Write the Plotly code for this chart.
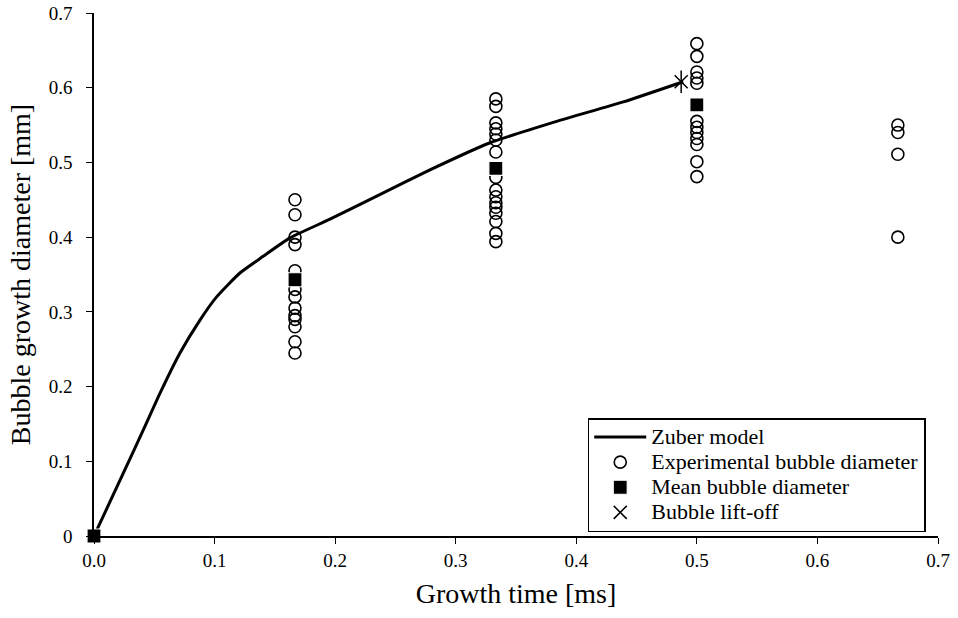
import plotly.graph_objects as go

# Zuber model curve
zuber_t = [0, 0.0243, 0.0409, 0.0547, 0.0713, 0.0879, 0.1017, 0.121, 0.140, 0.1625,
           0.1957, 0.237, 0.2786, 0.328, 0.3837, 0.439, 0.4887]
zuber_d = [0, 0.084, 0.142, 0.191, 0.245, 0.289, 0.320, 0.352, 0.374, 0.399,
           0.424, 0.457, 0.490, 0.526, 0.555, 0.581, 0.608]

# Experimental bubble diameters at each growth time
t1 = 0.1667
d1 = [0.45, 0.43, 0.40, 0.39, 0.355, 0.33, 0.32, 0.305, 0.295, 0.29, 0.28, 0.26, 0.245]
t2 = 0.3333
d2 = [0.585, 0.575, 0.553, 0.545, 0.538, 0.53, 0.514, 0.48, 0.463, 0.454, 0.446,
      0.44, 0.432, 0.421, 0.405, 0.394]
t3 = 0.5
d3 = [0.659, 0.642, 0.621, 0.613, 0.606, 0.555, 0.547, 0.54, 0.532, 0.524, 0.501, 0.481]
t4 = 0.6667
d4 = [0.55, 0.54, 0.511, 0.40]

# Mean bubble diameter
mean_t = [0.0, 0.1667, 0.3333, 0.5]
mean_d = [0.0, 0.343, 0.492, 0.577]

# Bubble lift-off
lift_t = [0.487]
lift_d = [0.608]

exp_t = [t1] * len(d1) + [t2] * len(d2) + [t3] * len(d3) + [t4] * len(d4)
exp_d = d1 + d2 + d3 + d4

FONT = "Liberation Serif, Times New Roman, serif"


def lg(text):
    return '<span style="font-size:22px">' + text + '</span>'


fig = go.Figure()
fig.add_trace(go.Scatter(x=zuber_t, y=zuber_d, mode="lines", name=lg("Zuber model"),
                         line=dict(color="black", width=3, shape="spline", smoothing=0.5)))
fig.add_trace(go.Scatter(x=exp_t, y=exp_d, mode="markers", name=lg("Experimental bubble diameter"),
                         marker=dict(symbol="circle-open", size=12, color="black",
                                     line=dict(color="black", width=1.6))))
fig.add_trace(go.Scatter(x=mean_t, y=mean_d, mode="markers", name=lg("Mean bubble diameter"),
                         marker=dict(symbol="square", size=14, color="black",
                                     line=dict(color="white", width=1.2))))
fig.add_trace(go.Scatter(x=lift_t, y=lift_d, mode="markers", name=lg("Bubble lift-off"),
                         marker=dict(symbol="x-thin", size=13, color="black",
                                     line=dict(color="black", width=1.5))))
fig.add_trace(go.Scatter(x=lift_t, y=lift_d, mode="markers", showlegend=False,
                         marker=dict(symbol="line-ns", size=16, color="black",
                                     line=dict(color="black", width=1.5))))

fig.update_traces(cliponaxis=False)

fig.update_layout(
    width=958, height=618,
    margin=dict(l=94, r=20, t=13, b=82),
    paper_bgcolor="white", plot_bgcolor="white",
    font=dict(family=FONT, color="black", size=19),
    showlegend=True,
    legend=dict(x=0.585, y=0.2256, xanchor="left", yanchor="top",
                bgcolor="white", bordercolor="black", borderwidth=1.5,
                font=dict(family=FONT, size=17, color="black"),
                tracegroupgap=0, itemwidth=52),
    xaxis=dict(range=[0, 0.7], dtick=0.1, tick0=0, tickformat=".1f", automargin=False,
               showgrid=False, zeroline=False, showline=True, linecolor="black", linewidth=1.5,
               ticks="outside", ticklen=6, tickwidth=1.2, tickcolor="black",
               tickfont=dict(family=FONT, size=19, color="black"),
               title=dict(text="Growth time [ms]", font=dict(family=FONT, size=28, color="black"),
                          standoff=14)),
    yaxis=dict(range=[0, 0.7], dtick=0.1, tick0=0, automargin=False,
               showgrid=False, zeroline=False, showline=True, linecolor="black", linewidth=1.5,
               ticks="outside", ticklen=6, tickwidth=1.2, tickcolor="black",
               tickfont=dict(family=FONT, size=19, color="black"),
               ticklabelstandoff=10,
               title=dict(text="Bubble growth diameter [mm]", font=dict(family=FONT, size=28, color="black"),
                          standoff=10)),
)

fig.write_html("out.html")
